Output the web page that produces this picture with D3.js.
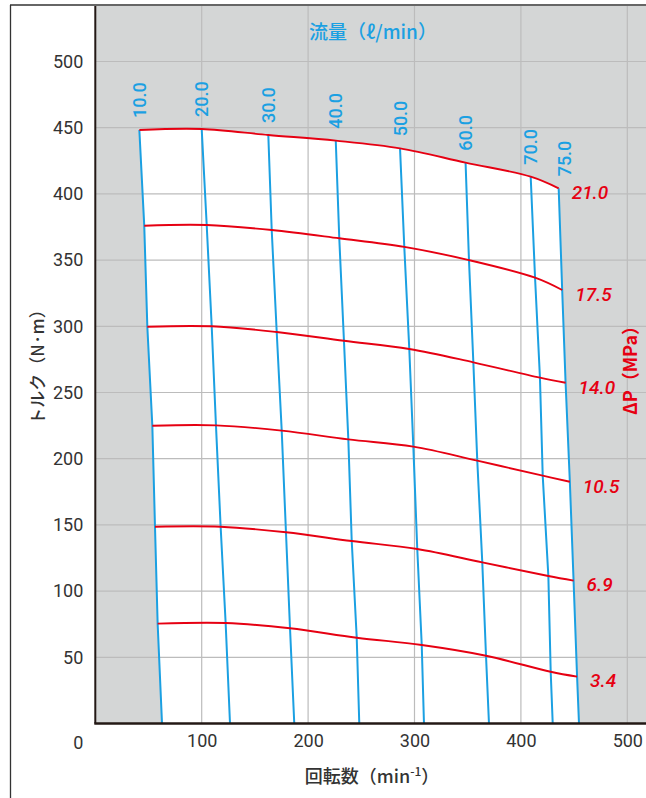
<!DOCTYPE html>
<html>
<head>
<meta charset="utf-8">
<script src="https://cdn.jsdelivr.net/npm/d3@7"></script>
<style>
  body { margin: 0; background: #fff; }
  svg { display: block; }
</style>
</head>
<body>
<div class="chart"></div>
<script>
// 流量 labels (one blue line per flow)
var flows = ["10.0", "20.0", "30.0", "40.0", "50.0", "60.0", "70.0", "75.0"];
// ΔP labels (one red curve per pressure)
var pressures = ["21.0", "17.5", "14.0", "10.5", "6.9", "3.4"];

// rpm at each flow, per pressure
var rpm210 = [41.4, 100, 162.6, 226, 286.4, 348, 409.2, 435.5];
var rpm175 = [46, 104.7, 165.8, 229.3, 290.4, 351.2, 413.3, 438.8];
var rpm140 = [48.9, 109.4, 170.5, 233.7, 295.1, 355.3, 417.9, 442];
var rpm105 = [53.6, 113.4, 175.2, 237.8, 298.9, 359, 420.5, 446];
var rpm069 = [56.1, 117.8, 179.2, 241, 302.6, 363.7, 425.8, 449.5];
var rpm034 = [58.6, 122.5, 183, 245.7, 306.8, 367.2, 428, 452.8];
var rpm000 = [62.7, 126.6, 187, 248.1, 308.9, 370, 429.9, 454.6];

// torque at each flow, per pressure
var trq210 = [448.3, 449, 444.5, 440.2, 434.4, 423.6, 413, 404.2];
var trq175 = [376, 376.5, 372.7, 366.5, 360, 350, 336.7, 327.4];
var trq140 = [299.7, 300, 295.7, 289.1, 282.9, 272.8, 261.2, 257.4];
var trq105 = [224.9, 225.2, 221.2, 214.6, 209.1, 198.5, 187.2, 182.6];
var trq069 = [148.6, 148.6, 144.4, 137.8, 131.8, 121.7, 111.4, 107.9];
var trq034 = [75.4, 75.9, 71.9, 64.8, 59.3, 51.2, 39.1, 35.4];

var xTicks = [100, 200, 300, 400, 500];
var yTicks = [50, 100, 150, 200, 250, 300, 350, 400, 450, 500];

var rpmRows = [rpm210, rpm175, rpm140, rpm105, rpm069, rpm034];
var trqRows = [trq210, trq175, trq140, trq105, trq069, trq034];

var W = 646, H = 798;
var blue = "#1ba0e2", red = "#e60012", ink = "#333";

var x = d3.scaleLinear().domain([0, 500]).range([95.3, 627.3]);
var y = d3.scaleLinear().domain([0, 500]).range([723.5, 61.5]);
var plotTop = 6, plotLeft = x(0), plotBottom = y(0);

var svg = d3.select(".chart").append("svg")
    .attr("width", W)
    .attr("height", H)
    .style("font-family", "Roboto, 'Liberation Sans', sans-serif");

// outer frame
svg.append("line").attr("x1", 10.5).attr("x2", 10.5).attr("y1", 5).attr("y2", H)
    .attr("stroke", ink).attr("stroke-width", 1.3);
svg.append("line").attr("x1", 10).attr("x2", W).attr("y1", 5).attr("y2", 5)
    .attr("stroke", ink).attr("stroke-width", 1.6);

// gray plot background
svg.append("rect")
    .attr("x", plotLeft).attr("y", plotTop)
    .attr("width", W - plotLeft).attr("height", plotBottom - plotTop)
    .attr("fill", "#d4d6d6");

// points for curves and flow lines
var curves = pressures.map(function(p, i) {
  return rpmRows[i].map(function(r, j) { return [r, trqRows[i][j]]; });
});
var flowLines = flows.map(function(f, j) {
  var pts = rpmRows.map(function(row, i) { return [row[j], trqRows[i][j]]; });
  pts.push([rpm000[j], 0]);
  return pts;
});

var lineLin = d3.line().x(function(d) { return x(d[0]); }).y(function(d) { return y(d[1]); });
var lineSmooth = d3.line().curve(d3.curveCatmullRom.alpha(0.5))
    .x(function(d) { return x(d[0]); }).y(function(d) { return y(d[1]); });

// white operating region
var leftEdge = flowLines[0].slice().reverse();
var rightEdge = flowLines[flowLines.length - 1];
var region = lineLin(leftEdge) +
    lineSmooth(curves[0]).replace(/^M/, "L") +
    lineLin(rightEdge).replace(/^M/, "L") + "Z";
svg.append("path").attr("d", region).attr("fill", "#fff");

// grid
var grid = svg.append("g").attr("stroke", "#bcbcbc").attr("stroke-width", 1.2);
grid.selectAll(".gx").data(xTicks).enter().append("line")
    .attr("x1", function(d) { return x(d); }).attr("x2", function(d) { return x(d); })
    .attr("y1", plotTop).attr("y2", plotBottom);
grid.selectAll(".gy").data(yTicks).enter().append("line")
    .attr("x1", plotLeft).attr("x2", W)
    .attr("y1", function(d) { return y(d); }).attr("y2", function(d) { return y(d); });

// flow lines
svg.selectAll(".flow").data(flowLines).enter().append("path")
    .attr("class", "flow")
    .attr("d", lineLin)
    .attr("fill", "none")
    .attr("stroke", blue)
    .attr("stroke-width", 2);

// pressure curves
svg.selectAll(".press").data(curves).enter().append("path")
    .attr("class", "press")
    .attr("d", lineSmooth)
    .attr("fill", "none")
    .attr("stroke", red)
    .attr("stroke-width", 1.9);

// flow labels, rotated, above the top of each line
svg.selectAll(".flab").data(flows).enter().append("text")
    .attr("class", "flab")
    .attr("transform", function(d, j) {
      var dx = j == flows.length - 1 ? 6 : 0;
      return "translate(" + (x(rpm210[j]) + dx) + "," + (y(trq210[j]) - 12) + ") rotate(-90)";
    })
    .attr("dy", "0.36em")
    .attr("fill", blue)
    .attr("font-size", 18)
    .attr("font-weight", 500)
    .text(function(d) { return d; });

// pressure labels at the end of each curve
svg.selectAll(".plab").data(pressures).enter().append("text")
    .attr("class", "plab")
    .attr("x", function(d, i) { return x(rpmRows[i][7]) + 13; })
    .attr("y", function(d, i) { return y(trqRows[i][7]) + 4; })
    .attr("dy", "0.36em")
    .attr("fill", red)
    .attr("font-size", 19)
    .attr("font-style", "italic")
    .attr("font-weight", 500)
    .text(function(d) { return d; });

// axes (labels only)
var yAxis = d3.axisLeft(y).tickValues(yTicks).tickSize(0).tickPadding(12);
var xAxis = d3.axisBottom(x).tickValues(xTicks).tickSize(0).tickPadding(11);

var gy = svg.append("g").attr("transform", "translate(" + plotLeft + ",0)").call(yAxis);
var gx = svg.append("g").attr("transform", "translate(0," + plotBottom + ")").call(xAxis);
[gx, gy].forEach(function(g) {
  g.select(".domain").remove();
  g.selectAll("text")
      .attr("font-family", "Roboto, 'Liberation Sans', sans-serif")
      .attr("font-size", 18)
      .attr("fill", ink);
});
svg.append("text")
    .attr("x", plotLeft - 12).attr("y", plotBottom + 19)
    .attr("dy", "0.36em")
    .attr("text-anchor", "end")
    .attr("font-size", 18).attr("fill", ink)
    .text("0");

// axis lines on top
svg.append("line").attr("x1", plotLeft).attr("x2", plotLeft).attr("y1", plotTop).attr("y2", plotBottom)
    .attr("stroke", "#231815").attr("stroke-width", 2);
svg.append("line").attr("x1", plotLeft - 1).attr("x2", W).attr("y1", plotBottom).attr("y2", plotBottom)
    .attr("stroke", "#231815").attr("stroke-width", 2.5);

// titles
var cjk = "'Noto Sans CJK JP', 'Noto Sans', sans-serif";
svg.append("text")
    .attr("x", 373).attr("y", 32).attr("dy", "0.36em")
    .attr("text-anchor", "middle")
    .attr("font-family", cjk).attr("font-size", 19).attr("font-weight", 500)
    .attr("fill", blue)
    .text("流量（ℓ/min）");

svg.append("text")
    .attr("transform", "translate(38,363) rotate(-90)")
    .attr("dy", "0.36em")
    .attr("text-anchor", "middle")
    .attr("font-family", cjk).attr("font-size", 17).attr("font-weight", 500)
    .attr("fill", ink)
    .text("トルク（N·m）");

var xt = svg.append("text")
    .attr("x", 372).attr("y", 777).attr("dy", "0.36em")
    .attr("text-anchor", "middle")
    .attr("font-family", cjk).attr("font-size", 18).attr("font-weight", 500)
    .attr("fill", ink);
xt.append("tspan").text("回転数（min");
xt.append("tspan").attr("font-size", 12).attr("dy", "-0.6em").text("-1");
xt.append("tspan").attr("dy", "0.4em").text("）");

svg.append("text")
    .attr("transform", "translate(631,366) rotate(-90)")
    .attr("dy", "0.36em")
    .attr("text-anchor", "middle")
    .attr("font-family", cjk).attr("font-size", 18).attr("font-weight", 700)
    .attr("fill", red)
    .text("ΔP（MPa）");
</script>
</body>
</html>
